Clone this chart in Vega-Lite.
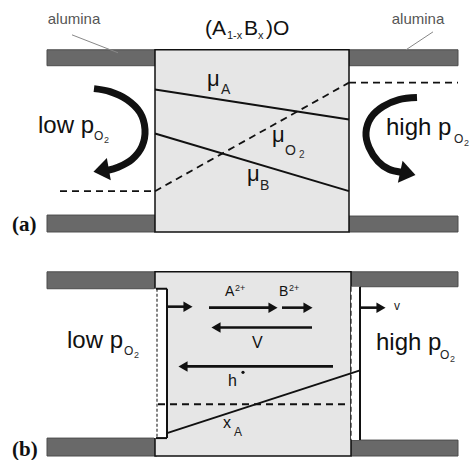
{
 "$schema": "https://vega.github.io/schema/vega-lite/v6.json",
 "width": 473, "height": 460,
 "autosize": {"type": "fit", "contains": "padding"},
 "padding": 0,
 "background": "white",
 "config": {"view": {"stroke": null}},
 "encoding": {
  "x": {"field": "x", "type": "quantitative", "scale": {"domain": [0, 473], "nice": false, "zero": false}, "axis": null},
  "y": {"field": "y", "type": "quantitative", "scale": {"domain": [0, 460], "nice": false, "zero": false, "reverse": true}, "axis": null}
 },
 "layer": [
  {"data": {"values": [
    {"x": 47, "y": 50, "x2": 155, "y2": 66},
    {"x": 349, "y": 50, "x2": 458, "y2": 66},
    {"x": 47, "y": 216, "x2": 155, "y2": 233},
    {"x": 349, "y": 217, "x2": 458, "y2": 233},
    {"x": 47, "y": 273, "x2": 157, "y2": 290},
    {"x": 351, "y": 273, "x2": 458, "y2": 288},
    {"x": 47, "y": 440, "x2": 157, "y2": 458},
    {"x": 351, "y": 442, "x2": 458, "y2": 458}]},
   "mark": {"type": "rect", "fill": "#696969", "stroke": "#4d4d4d", "strokeWidth": 1},
   "encoding": {"x2": {"field": "x2"}, "y2": {"field": "y2"}}},
  {"data": {"values": [
    {"x": 155, "y": 50, "x2": 349, "y2": 233},
    {"x": 155, "y": 273, "x2": 351, "y2": 458}]},
   "mark": {"type": "rect", "fill": "#e6e6e6", "stroke": "#111", "strokeWidth": 1.5},
   "encoding": {"x2": {"field": "x2"}, "y2": {"field": "y2"}}},
  {"data": {"values": [
    {"x": 154, "y": 290, "x2": 167, "y2": 440},
    {"x": 351, "y": 288, "x2": 360, "y2": 442}]},
   "mark": {"type": "rect", "fill": "#ffffff"},
   "encoding": {"x2": {"field": "x2"}, "y2": {"field": "y2"}}},
  {"data": {"values": [
    {"x": 60, "y": 192, "x2": 155, "y2": 192},
    {"x": 155, "y": 192, "x2": 349, "y2": 83},
    {"x": 349, "y": 83, "x2": 458, "y2": 83},
    {"x": 158, "y": 406, "x2": 349, "y2": 406}]},
   "mark": {"type": "rule", "color": "#111", "strokeWidth": 1.8, "strokeDash": [7, 5]},
   "encoding": {"x2": {"field": "x2"}, "y2": {"field": "y2"}}},
  {"data": {"values": [
    {"x": 157, "y": 290, "x2": 157, "y2": 440}]},
   "mark": {"type": "rule", "color": "#666", "strokeWidth": 1.6, "strokeDash": [3, 2]},
   "encoding": {"x2": {"field": "x2"}, "y2": {"field": "y2"}}},
  {"data": {"values": [
    {"x": 351, "y": 288, "x2": 351, "y2": 442}]},
   "mark": {"type": "rule", "color": "#222", "strokeWidth": 1.2, "strokeDash": [5, 3]},
   "encoding": {"x2": {"field": "x2"}, "y2": {"field": "y2"}}},
  {"data": {"values": [
    {"x": 72, "y": 35, "x2": 118, "y2": 53},
    {"x": 433, "y": 32, "x2": 406, "y2": 50}]},
   "mark": {"type": "rule", "color": "#888", "strokeWidth": 1},
   "encoding": {"x2": {"field": "x2"}, "y2": {"field": "y2"}}},
  {"data": {"values": [
    {"x": 155, "y": 90, "x2": 349, "y2": 120},
    {"x": 155, "y": 134, "x2": 349, "y2": 192},
    {"x": 156, "y": 290, "x2": 167, "y2": 290},
    {"x": 167, "y": 290, "x2": 167, "y2": 440},
    {"x": 167, "y": 440, "x2": 156, "y2": 440},
    {"x": 360, "y": 288, "x2": 360, "y2": 442},
    {"x": 167, "y": 435, "x2": 360, "y2": 372}]},
   "mark": {"type": "rule", "color": "#111", "strokeWidth": 2},
   "encoding": {"x2": {"field": "x2"}, "y2": {"field": "y2"}}},
  {"data": {"values": [
    {"x": 168, "y": 308, "x2": 188, "y2": 308},
    {"x": 209, "y": 309, "x2": 273, "y2": 309},
    {"x": 282, "y": 309, "x2": 308, "y2": 309},
    {"x": 360, "y": 309, "x2": 381, "y2": 309},
    {"x": 312, "y": 329, "x2": 216, "y2": 329},
    {"x": 333, "y": 368, "x2": 183, "y2": 368}]},
   "mark": {"type": "rule", "color": "#111", "strokeWidth": 2.6},
   "encoding": {"x2": {"field": "x2"}, "y2": {"field": "y2"}}},
  {"data": {"values": [
    {"x": 188, "y": 308}, {"x": 273, "y": 309}, {"x": 308, "y": 309}, {"x": 381, "y": 309}]},
   "mark": {"type": "point", "shape": "triangle-right", "size": 110, "filled": true, "color": "#111", "opacity": 1}},
  {"data": {"values": [
    {"x": 216, "y": 329}, {"x": 183, "y": 368}]},
   "mark": {"type": "point", "shape": "triangle-left", "size": 110, "filled": true, "color": "#111", "opacity": 1}},
  {"data": {"values": [
    {"g": "L", "i": 1, "x": 94, "y": 89},
    {"g": "L", "i": 2, "x": 110, "y": 92},
    {"g": "L", "i": 3, "x": 127, "y": 100},
    {"g": "L", "i": 4, "x": 140, "y": 113},
    {"g": "L", "i": 5, "x": 145, "y": 130},
    {"g": "L", "i": 6, "x": 142, "y": 147},
    {"g": "L", "i": 7, "x": 132, "y": 160},
    {"g": "L", "i": 8, "x": 118, "y": 168},
    {"g": "L", "i": 9, "x": 108, "y": 171},
    {"g": "R", "i": 1, "x": 417, "y": 98},
    {"g": "R", "i": 2, "x": 399, "y": 100},
    {"g": "R", "i": 3, "x": 383, "y": 107},
    {"g": "R", "i": 4, "x": 371, "y": 118},
    {"g": "R", "i": 5, "x": 366, "y": 133},
    {"g": "R", "i": 6, "x": 369, "y": 148},
    {"g": "R", "i": 7, "x": 378, "y": 162},
    {"g": "R", "i": 8, "x": 389, "y": 170},
    {"g": "R", "i": 9, "x": 401, "y": 173}]},
   "mark": {"type": "line", "color": "#111", "strokeWidth": 7, "strokeCap": "butt", "interpolate": "cardinal"},
   "encoding": {"detail": {"field": "g"}, "order": {"field": "i", "type": "quantitative"}}},
  {"data": {"values": [{"x": 407, "y": 174}]},
   "mark": {"type": "point", "shape": "M -0.8 -1.3 L 1 0 L -0.8 1.3 Z", "size": 300, "filled": true, "color": "#111", "opacity": 1, "angle": 12}},
  {"data": {"values": [{"x": 102, "y": 171}]},
   "mark": {"type": "point", "shape": "M 0.8 -1.3 L -1 0 L 0.8 1.3 Z", "size": 300, "filled": true, "color": "#111", "opacity": 1, "angle": -10}},
  {"data": {"values": [{"x": 243, "y": 374}]},
   "mark": {"type": "point", "shape": "circle", "size": 10, "filled": true, "color": "#111", "opacity": 1}},
  {"data": {"values": [
    {"x": 38, "y": 134, "t": "low p"},
    {"x": 386, "y": 136, "t": "high p"},
    {"x": 67, "y": 350, "t": "low p"},
    {"x": 376, "y": 352, "t": "high p"}]},
   "mark": {"type": "text", "align": "left", "baseline": "alphabetic", "font": "Liberation Sans", "fontSize": 24, "color": "#111"},
   "encoding": {"text": {"field": "t"}}},
  {"data": {"values": [
    {"x": 94, "y": 141, "t": "O"},
    {"x": 454, "y": 144, "t": "O"},
    {"x": 124, "y": 357, "t": "O"},
    {"x": 440, "y": 361, "t": "O"}]},
   "mark": {"type": "text", "align": "left", "baseline": "alphabetic", "font": "Liberation Sans", "fontSize": 12, "color": "#222"},
   "encoding": {"text": {"field": "t"}}},
  {"data": {"values": [
    {"x": 104, "y": 144, "t": "2"},
    {"x": 464, "y": 147, "t": "2"},
    {"x": 134, "y": 360, "t": "2"},
    {"x": 450, "y": 364, "t": "2"}]},
   "mark": {"type": "text", "align": "left", "baseline": "alphabetic", "font": "Liberation Sans", "fontSize": 9, "color": "#333"},
   "encoding": {"text": {"field": "t"}}},
  {"data": {"values": [
    {"x": 205, "y": 35, "t": "(A"},
    {"x": 244, "y": 35, "t": "B"},
    {"x": 266, "y": 35, "t": ")O"}]},
   "mark": {"type": "text", "align": "left", "baseline": "alphabetic", "font": "Liberation Sans", "fontSize": 21, "color": "#111"},
   "encoding": {"text": {"field": "t"}}},
  {"data": {"values": [
    {"x": 227, "y": 39, "t": "1-x"},
    {"x": 258, "y": 39, "t": "x"}]},
   "mark": {"type": "text", "align": "left", "baseline": "alphabetic", "font": "Liberation Sans", "fontSize": 11, "color": "#222"},
   "encoding": {"text": {"field": "t"}}},
  {"data": {"values": [
    {"x": 207, "y": 86, "t": "μ"},
    {"x": 272, "y": 143, "t": "μ"},
    {"x": 247, "y": 182, "t": "μ"}]},
   "mark": {"type": "text", "align": "left", "baseline": "alphabetic", "font": "Liberation Sans", "fontSize": 22, "color": "#111"},
   "encoding": {"text": {"field": "t"}}},
  {"data": {"values": [
    {"x": 221, "y": 94, "t": "A"},
    {"x": 285, "y": 156, "t": "O"},
    {"x": 260, "y": 191, "t": "B"}]},
   "mark": {"type": "text", "align": "left", "baseline": "alphabetic", "font": "Liberation Sans", "fontSize": 14, "color": "#222"},
   "encoding": {"text": {"field": "t"}}},
  {"data": {"values": [
    {"x": 299, "y": 159, "t": "2"}]},
   "mark": {"type": "text", "align": "left", "baseline": "alphabetic", "font": "Liberation Sans", "fontSize": 10, "color": "#333"},
   "encoding": {"text": {"field": "t"}}},
  {"data": {"values": [
    {"x": 225, "y": 297, "t": "A"},
    {"x": 279, "y": 297, "t": "B"}]},
   "mark": {"type": "text", "align": "left", "baseline": "alphabetic", "font": "Liberation Sans", "fontSize": 14, "color": "#111"},
   "encoding": {"text": {"field": "t"}}},
  {"data": {"values": [
    {"x": 235, "y": 292, "t": "2+"},
    {"x": 289, "y": 292, "t": "2+"}]},
   "mark": {"type": "text", "align": "left", "baseline": "alphabetic", "font": "Liberation Sans", "fontSize": 9, "color": "#222"},
   "encoding": {"text": {"field": "t"}}},
  {"data": {"values": [
    {"x": 252, "y": 350, "t": "V"},
    {"x": 228, "y": 388, "t": "h"},
    {"x": 223, "y": 430, "t": "x"}]},
   "mark": {"type": "text", "align": "left", "baseline": "alphabetic", "font": "Liberation Sans", "fontSize": 16, "color": "#111"},
   "encoding": {"text": {"field": "t"}}},
  {"data": {"values": [
    {"x": 234, "y": 438, "t": "A"},
    {"x": 394, "y": 311, "t": "v"}]},
   "mark": {"type": "text", "align": "left", "baseline": "alphabetic", "font": "Liberation Sans", "fontSize": 12, "color": "#222"},
   "encoding": {"text": {"field": "t"}}},
  {"data": {"values": [
    {"x": 74, "y": 24, "t": "alumina"},
    {"x": 418, "y": 24, "t": "alumina"}]},
   "mark": {"type": "text", "align": "center", "baseline": "alphabetic", "font": "Liberation Sans", "fontSize": 15, "color": "#555"},
   "encoding": {"text": {"field": "t"}}},
  {"data": {"values": [
    {"x": 12, "y": 232, "t": "(a)"},
    {"x": 12, "y": 458, "t": "(b)"}]},
   "mark": {"type": "text", "align": "left", "baseline": "alphabetic", "font": "Liberation Serif", "fontWeight": "bold", "fontSize": 21, "color": "#111"},
   "encoding": {"text": {"field": "t"}}}
 ]
}
